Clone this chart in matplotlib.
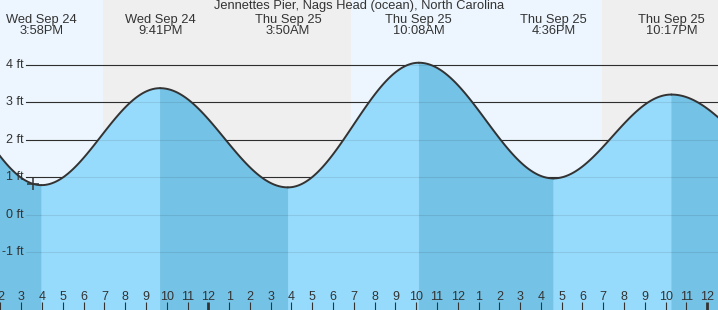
import numpy as np
import matplotlib.pyplot as plt
import matplotlib.transforms as mtransforms

plt.rcParams['font.family'] = ['Liberation Sans', 'DejaVu Sans']

# hours are counted from midnight, Thu Sep 25
tide_hours = [-14.25, -8.03, -2.32, 3.83, 10.13, 16.60, 22.28, 28.50]
tide_feet = [4.14, 0.79, 3.38, 0.73, 4.06, 0.97, 3.21, 1.10]

label_hours = [-8.03, -2.32, 3.83, 10.13, 16.60, 22.28]
label_days = ['Wed Sep 24', 'Wed Sep 24', 'Thu Sep 25', 'Thu Sep 25', 'Thu Sep 25', 'Thu Sep 25']
label_times = ['3:58PM', '9:41PM', '3:50AM', '10:08AM', '4:36PM', '10:17PM']

day_spans = [(-10.02, -5.07), (6.85, 18.93)]
night_spans = [(-5.07, 6.85), (18.93, 24.52)]

hour_ticks = list(range(-10, 25))
hour_labels = ['2', '3', '4', '5', '6', '7', '8', '9', '10', '11', '12',
               '1', '2', '3', '4', '5', '6', '7', '8', '9', '10', '11', '12',
               '1', '2', '3', '4', '5', '6', '7', '8', '9', '10', '11', '12']
midnight_ticks = [0, 24]

ft_ticks = [4, 3, 2, 1, 0, -1]
now_hour, now_ft = -8.43, 0.82

title = 'Jennettes Pier, Nags Head (ocean), North Carolina'
text_col = '#333333'

fig = plt.figure(figsize=(7.18, 3.10), dpi=100)
ax = fig.add_axes([0, 0, 1, 1])
ax.set_xlim(-10.02, 24.52)
ax.set_ylim(-2.546, 5.736)

for a, b in day_spans:
    ax.axvspan(a, b, color='#edf6fe', lw=0, zorder=0)
for a, b in night_spans:
    ax.axvspan(a, b, color='#efefef', lw=0, zorder=0)

for v in ft_ticks:
    ax.axhline(v, xmin=26 / 718, xmax=1, color=text_col, lw=0.8, zorder=1)
    ax.axhline(v, xmin=26 / 718, xmax=1, color=(0, 0, 0, 0.09), lw=0.8, zorder=3)

# tide curve: half-cosine between each pair of extremes
for i in range(len(tide_hours) - 1):
    t0, t1 = tide_hours[i], tide_hours[i + 1]
    v0, v1 = tide_feet[i], tide_feet[i + 1]
    t = np.linspace(t0, t1, 120)
    v = v0 + (v1 - v0) * (1 - np.cos(np.pi * (t - t0) / (t1 - t0))) / 2
    fill = '#97dbfc' if v1 > v0 else '#74c2e6'
    ax.fill_between(t, -3, v, facecolor=fill, edgecolor=fill, lw=0.6, zorder=2)
    ax.plot(t, v, color=text_col, lw=1.4, zorder=4, solid_capstyle='round')

ax.plot([now_hour], [now_ft], marker='+', color=text_col, ms=8, mew=1.1, zorder=5)

major = [h for h in hour_ticks if h not in midnight_ticks]
ax.set_xticks(major)
ax.set_xticklabels([hour_labels[hour_ticks.index(h)] for h in major])
ax.set_xticks(midnight_ticks, minor=True)
ax.set_xticklabels([hour_labels[hour_ticks.index(h)] for h in midnight_ticks], minor=True)
ax.tick_params(axis='x', which='both', direction='in', length=5.8, pad=-13.5,
               labelsize=9, colors=text_col)
ax.tick_params(axis='x', which='major', width=0.8)
ax.tick_params(axis='x', which='minor', width=2.0)
ax.xaxis.set_zorder(6)
ax.set_yticks([])
for s in ax.spines.values():
    s.set_visible(False)

ytrans = mtransforms.blended_transform_factory(ax.transAxes, ax.transData)
for v in ft_ticks:
    ax.text(24 / 718, v, f'{v} ft', transform=ytrans, ha='right', va='center',
            fontsize=9, color=text_col, zorder=6)

xtrans = mtransforms.blended_transform_factory(ax.transData, ax.transAxes)
for h, d, tm in zip(label_hours, label_days, label_times):
    ax.text(h, 1 - 20 / 310, d, transform=xtrans, ha='center', va='center',
            fontsize=9.3, color=text_col)
    ax.text(h, 1 - 31.5 / 310, tm, transform=xtrans, ha='center', va='center',
            fontsize=9.3, color=text_col)

fig.text(0.5, 1 - 6.5 / 310, title, ha='center', va='center', fontsize=9.3, color=text_col)

fig.savefig('out.png', dpi=100)
